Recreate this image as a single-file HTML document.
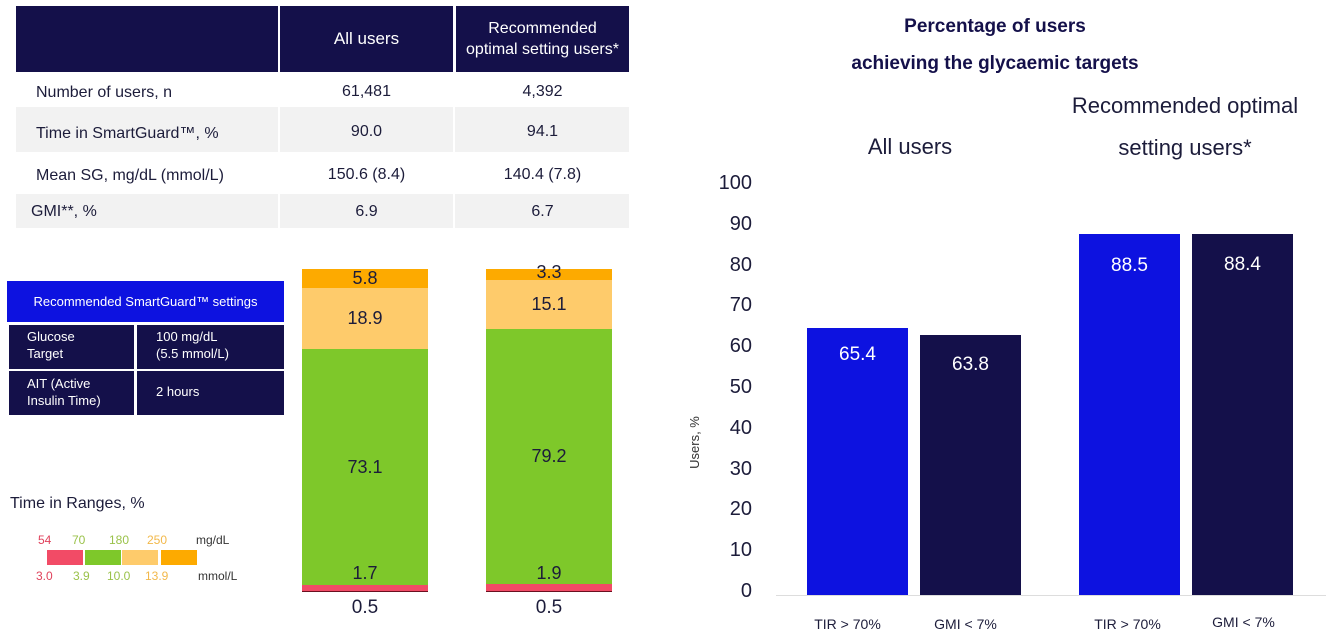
<!DOCTYPE html>
<html><head><meta charset="utf-8"><style>
body{margin:0;width:1326px;height:639px;background:#fff;position:relative;overflow:hidden;font-family:"Liberation Sans",sans-serif;color:#1c1c3a}
.a{position:absolute}
.c{position:absolute;display:flex;align-items:center;justify-content:center;text-align:center}
.nv{background:#14104a;color:#fff}
.g{background:#f2f2f2}
</style></head><body>
<!-- table -->
<div class="a nv" style="left:16px;top:6px;width:262px;height:66px"></div>
<div class="c nv" style="left:280px;top:6px;width:173px;height:66px;font-size:17px">All users</div>
<div class="c nv" style="left:456px;top:6px;width:173px;height:66px;font-size:16px;line-height:21px">Recommended<br>optimal setting users*</div>
<div class="a g" style="left:16px;top:107px;width:613px;height:45px"></div>
<div class="a g" style="left:16px;top:194px;width:613px;height:34px"></div>
<div class="a" style="left:453px;top:107px;width:2px;height:45px;background:#fff"></div>
<div class="a" style="left:453px;top:194px;width:2px;height:34px;background:#fff"></div>
<div class="a" style="left:278px;top:107px;width:2px;height:45px;background:#fff"></div>
<div class="a" style="left:278px;top:194px;width:2px;height:34px;background:#fff"></div>
<div class="a" style="left:36px;top:84px;font-size:16px">Number of users, n</div>
<div class="c" style="left:280px;top:74px;width:173px;height:35px;font-size:16px">61,481</div>
<div class="c" style="left:456px;top:74px;width:173px;height:35px;font-size:16px">4,392</div>
<div class="a" style="left:36px;top:125px;font-size:16px">Time in SmartGuard™, %</div>
<div class="c" style="left:280px;top:109px;width:173px;height:45px;font-size:16px">90.0</div>
<div class="c" style="left:456px;top:109px;width:173px;height:45px;font-size:16px">94.1</div>
<div class="a" style="left:36px;top:167px;font-size:16px">Mean SG, mg/dL (mmol/L)</div>
<div class="c" style="left:280px;top:154px;width:173px;height:42px;font-size:16px">150.6 (8.4)</div>
<div class="c" style="left:456px;top:154px;width:173px;height:42px;font-size:16px">140.4 (7.8)</div>
<div class="a" style="left:31px;top:203px;font-size:16px">GMI**, %</div>
<div class="c" style="left:280px;top:195px;width:173px;height:34px;font-size:16px">6.9</div>
<div class="c" style="left:456px;top:195px;width:173px;height:34px;font-size:16px">6.7</div>
<!-- settings box -->
<div class="c" style="left:7px;top:281px;width:277px;height:41px;background:#0d12e0;color:#fff;font-size:13px">Recommended SmartGuard™ settings</div>
<div class="a nv" style="left:9px;top:325px;width:125px;height:44px"></div>
<div class="a nv" style="left:137px;top:325px;width:147px;height:44px"></div>
<div class="a nv" style="left:9px;top:371px;width:125px;height:44px"></div>
<div class="a nv" style="left:137px;top:371px;width:147px;height:44px"></div>
<div class="a" style="left:27px;top:328px;color:#fff;font-size:13px;line-height:17px">Glucose<br>Target</div>
<div class="a" style="left:156px;top:328px;color:#fff;font-size:13px;line-height:17px">100 mg/dL<br>(5.5 mmol/L)</div>
<div class="a" style="left:27px;top:375px;color:#fff;font-size:13px;line-height:17px">AIT (Active<br>Insulin Time)</div>
<div class="a" style="left:156px;top:384px;color:#fff;font-size:13px">2 hours</div>
<!-- legend -->
<div class="a" style="left:10px;top:495px;font-size:16px">Time in Ranges, %</div>
<div class="a" style="left:38px;top:533px;font-size:12px;color:#e0425c">54</div>
<div class="a" style="left:72px;top:533px;font-size:12px;color:#9ac24a">70</div>
<div class="a" style="left:109px;top:533px;font-size:12px;color:#9ac24a">180</div>
<div class="a" style="left:147px;top:533px;font-size:12px;color:#f2b84a">250</div>
<div class="a" style="left:196px;top:533px;font-size:12px;color:#333">mg/dL</div>
<div class="a" style="left:47px;top:550px;width:36px;height:15px;background:#f24b66"></div>
<div class="a" style="left:85px;top:550px;width:36px;height:15px;background:#7ec82a"></div>
<div class="a" style="left:122px;top:550px;width:36px;height:15px;background:#fecb6b"></div>
<div class="a" style="left:161px;top:550px;width:36px;height:15px;background:#fdaa00"></div>
<div class="a" style="left:36px;top:569px;font-size:12px;color:#e0425c">3.0</div>
<div class="a" style="left:73px;top:569px;font-size:12px;color:#9ac24a">3.9</div>
<div class="a" style="left:107px;top:569px;font-size:12px;color:#9ac24a">10.0</div>
<div class="a" style="left:145px;top:569px;font-size:12px;color:#f2b84a">13.9</div>
<div class="a" style="left:198px;top:569px;font-size:12px;color:#333">mmol/L</div>
<!-- stacked bars -->
<div class="c" style="left:302px;top:269px;width:126px;height:19px;background:#fdaa00;font-size:18px">5.8</div>
<div class="c" style="left:302px;top:288px;width:126px;height:61px;background:#fecb6b;font-size:18px">18.9</div>
<div class="c" style="left:302px;top:349px;width:126px;height:236px;background:#7ec82a;font-size:18px">73.1</div>
<div class="a" style="left:302px;top:563px;width:126px;text-align:center;font-size:18px">1.7</div>
<div class="a" style="left:302px;top:585px;width:126px;height:6px;background:#f24b66;border-bottom:1px solid #6a1020"></div>
<div class="a" style="left:302px;top:597px;width:126px;text-align:center;font-size:19px">0.5</div>
<div class="a" style="left:486px;top:269px;width:126px;height:11px;background:#fdaa00"></div>
<div class="a" style="left:486px;top:262px;width:126px;text-align:center;font-size:18px">3.3</div>
<div class="c" style="left:486px;top:280px;width:126px;height:49px;background:#fecb6b;font-size:18px">15.1</div>
<div class="c" style="left:486px;top:329px;width:126px;height:255px;background:#7ec82a;font-size:18px">79.2</div>
<div class="a" style="left:486px;top:563px;width:126px;text-align:center;font-size:18px">1.9</div>
<div class="a" style="left:486px;top:584px;width:126px;height:7px;background:#f24b66;border-bottom:1px solid #6a1020"></div>
<div class="a" style="left:486px;top:597px;width:126px;text-align:center;font-size:19px">0.5</div>
<!-- right chart -->
<div class="a" style="left:790px;top:16px;width:410px;text-align:center;font-size:19px;font-weight:bold;color:#14104a">Percentage of users</div>
<div class="a" style="left:790px;top:53px;width:410px;text-align:center;font-size:19px;font-weight:bold;color:#14104a">achieving the glycaemic targets</div>
<div class="a" style="left:800px;top:134px;width:220px;text-align:center;font-size:22px">All users</div>
<div class="a" style="left:1045px;top:85px;width:280px;text-align:center;font-size:22px;line-height:42px">Recommended optimal<br>setting users*</div>
<div class="a" style="left:700px;top:170px;width:52px;text-align:right;font-size:20px;line-height:26px">
<div style="height:40.8px">100</div><div style="height:40.8px">90</div><div style="height:40.8px">80</div><div style="height:40.8px">70</div><div style="height:40.8px">60</div><div style="height:40.8px">50</div><div style="height:40.8px">40</div><div style="height:40.8px">30</div><div style="height:40.8px">20</div><div style="height:40.8px">10</div><div style="height:40.8px">0</div></div>
<div class="a" style="left:668px;top:435px;transform:rotate(-90deg);font-size:13px;color:#333">Users, %</div>
<div class="a" style="left:776px;top:595px;width:550px;height:1px;background:#ddd"></div>
<div class="a" style="left:807px;top:328px;width:101px;height:267px;background:#0d12e0"></div>
<div class="a" style="left:920px;top:335px;width:101px;height:260px;background:#14104a"></div>
<div class="a" style="left:1079px;top:234px;width:101px;height:361px;background:#0d12e0"></div>
<div class="a" style="left:1192px;top:234px;width:101px;height:361px;background:#14104a"></div>
<div class="a" style="left:807px;top:344px;width:101px;text-align:center;color:#fff;font-size:19px">65.4</div>
<div class="a" style="left:920px;top:354px;width:101px;text-align:center;color:#fff;font-size:19px">63.8</div>
<div class="a" style="left:1079px;top:255px;width:101px;text-align:center;color:#fff;font-size:19px">88.5</div>
<div class="a" style="left:1192px;top:254px;width:101px;text-align:center;color:#fff;font-size:19px">88.4</div>
<div class="a" style="left:797px;top:616px;width:101px;text-align:center;font-size:14px">TIR &gt; 70%</div>
<div class="a" style="left:915px;top:616px;width:101px;text-align:center;font-size:14px">GMI &lt; 7%</div>
<div class="a" style="left:1077px;top:616px;width:101px;text-align:center;font-size:14px">TIR &gt; 70%</div>
<div class="a" style="left:1193px;top:614px;width:101px;text-align:center;font-size:14px">GMI &lt; 7%</div>
</body></html>
